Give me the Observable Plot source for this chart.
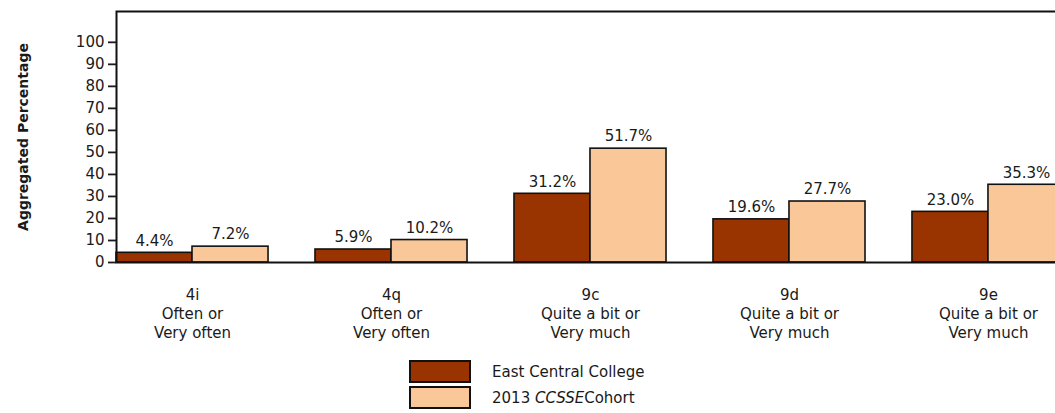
<!DOCTYPE html>
<html>
<head>
<meta charset="utf-8">
<script src="https://cdn.jsdelivr.net/npm/d3@7"></script>
<script src="https://cdn.jsdelivr.net/npm/@observablehq/plot@0.6"></script>
<style>
  html, body { margin: 0; padding: 0; background: #fff; }
  #wrap { position: relative; width: 1055px; height: 413px; overflow: hidden; font-family: "DejaVu Sans", sans-serif; color: #1a1a1a; }
  #chart svg { display: block; max-width: none !important; }
  .sw { position: absolute; left: 409px; width: 58px; height: 19px; border: 2px solid #111; }
  .lt { position: absolute; left: 492px; font-size: 15px; line-height: 18px; }
</style>
</head>
<body>
<div id="wrap">
  <div id="chart"></div>
  <div id="legend"></div>
</div>
<script>
const categories = ["4i", "4q", "9c", "9d", "9e"];
const responses = ["Often or\nVery often", "Often or\nVery often", "Quite a bit or\nVery much", "Quite a bit or\nVery much", "Quite a bit or\nVery much"];
const collegeValues = [4.4, 5.9, 31.2, 19.6, 23.0];
const cohortValues = [7.2, 10.2, 51.7, 27.7, 35.3];
const yTicks = [0, 10, 20, 30, 40, 50, 60, 70, 80, 90, 100];
const seriesNames = ["East Central College", "2013 CCSSE Cohort"];
const seriesColors = ["#993300", "#FAC898"];

const collegeRows = categories.map((c, i) => ({cat: c, value: collegeValues[i]}));
const cohortRows = categories.map((c, i) => ({cat: c, value: cohortValues[i]}));
const fmt = d => d.value.toFixed(1) + "%";

const chart = Plot.plot({
  width: 1064,
  height: 352,
  marginLeft: 116,
  marginRight: 0,
  marginTop: 11,
  marginBottom: 90,
  style: {fontFamily: "DejaVu Sans, sans-serif", fontSize: "15px", color: "#1a1a1a", background: "white"},
  x: {domain: categories, paddingInner: 0.236, paddingOuter: 0, align: 0, round: false, axis: null},
  y: {domain: [0, 114], axis: null},
  marks: [
    Plot.barY(collegeRows, {x: "cat", y: "value", fill: seriesColors[0], stroke: "#111", strokeWidth: 1.6, insetRight: 76}),
    Plot.barY(cohortRows, {x: "cat", y: "value", fill: seriesColors[1], stroke: "#111", strokeWidth: 1.6, insetLeft: 76}),
    Plot.text(collegeRows, {x: "cat", y: "value", text: fmt, dx: -38, dy: -12, fontSize: 15}),
    Plot.text(cohortRows, {x: "cat", y: "value", text: fmt, dx: 38, dy: -12, fontSize: 15}),
    Plot.frame({stroke: "#111", strokeWidth: 2}),
    Plot.axisY(yTicks, {anchor: "left", tickSize: 8, tickPadding: 4, strokeWidth: 1.8, label: null, fontSize: 15}),
    Plot.axisX({anchor: "bottom", tickSize: 0, tickPadding: 24, lineHeight: 1.27, label: null, fontSize: 15,
      tickFormat: d => d + "\n" + responses[categories.indexOf(d)]}),
    Plot.text(["Aggregated Percentage"], {frameAnchor: "left", rotate: -90, dx: -93, textAnchor: "middle", fontWeight: "bold", fontSize: 14, letterSpacing: 0.5})
  ]
});
document.getElementById("chart").appendChild(chart);

const legend = document.getElementById("legend");
const tops = [360, 386];
seriesNames.forEach((name, i) => {
  const sw = document.createElement("div");
  sw.className = "sw";
  sw.style.top = tops[i] + "px";
  sw.style.background = seriesColors[i];
  legend.appendChild(sw);
  const t = document.createElement("div");
  t.className = "lt";
  t.style.top = (tops[i] + 3) + "px";
  if (name.includes("CCSSE")) {
    const parts = name.split("CCSSE");
    t.innerHTML = parts[0] + "<i>CCSSE</i>" + parts[1].trim();
  } else {
    t.textContent = name;
  }
  legend.appendChild(t);
});
</script>
</body>
</html>
